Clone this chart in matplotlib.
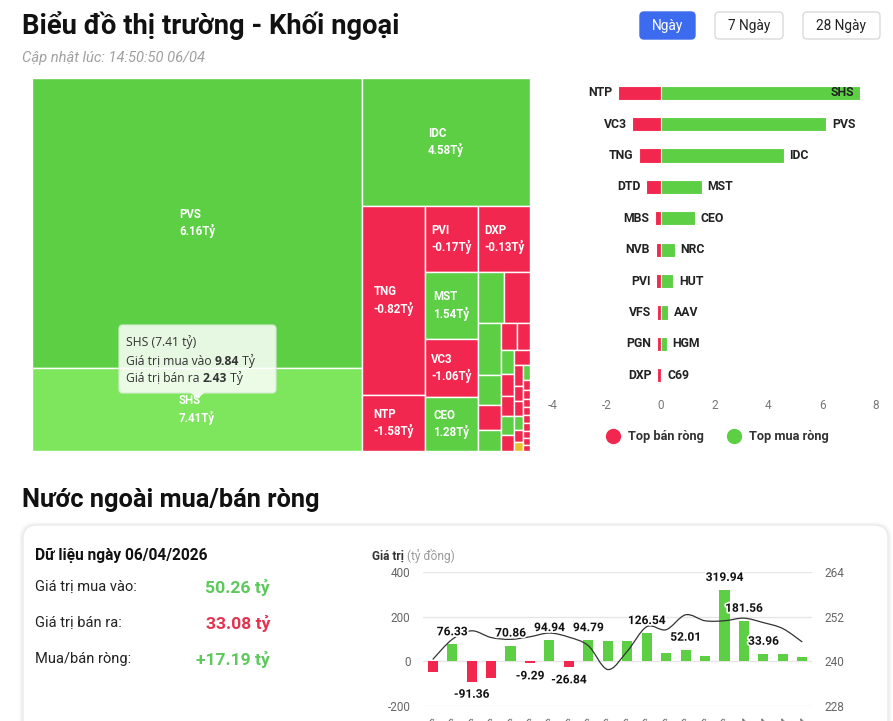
import matplotlib
matplotlib.use("Agg")
import matplotlib.pyplot as plt
import matplotlib.patheffects as pe
from matplotlib.patches import Rectangle, FancyBboxPatch, Polygon, PathPatch
from matplotlib.path import Path
from matplotlib.lines import Line2D
import numpy as np

plt.rcParams['font.family'] = ['Roboto', 'DejaVu Sans']
plt.rcParams['axes.unicode_minus'] = False

W, H = 893, 721
GREEN = '#5dcf45'
RED = '#f2274f'
HOVER_GREEN = '#7de65d'
YELLOW = '#e8c22a'

# ---------------- data ----------------
title = "Biểu đồ thị trường - Khối ngoại"
subtitle = "Cập nhật lúc: 14:50:50 06/04"
buttons = ["Ngày", "7 Ngày", "28 Ngày"]

# treemap (net value in tỷ, cell size weight)
tm_names = ['PVS', 'SHS', 'IDC', 'TNG', 'NTP', 'PVI', 'DXP', 'MST', 'VC3', 'CEO',
            'NRC', 'DTD',
            'HUT', 'AAV', 'MBS', 'HGM',
            'NVB', 'VFS',
            'C69', 'PGN', 'TIG', 'VCS', 'BVS',
            'PLC',
            'L14', 'TVD', 'IDJ', 'VGS', 'LAS', 'DHT',
            'HHC',
            'S99', 'TDN', 'VIG', 'SCG', 'API', 'DVM', 'PSD', 'BAB', 'NTH']
tm_net = [6.16, 7.41, 4.58, -0.82, -1.58, -0.17, -0.13, 1.54, -1.06, 1.28,
          0.52, -0.55,
          0.47, 0.28, -0.20, 0.22,
          -0.19, -0.15,
          0.05, -0.14, -0.10, 0.04, -0.08,
          -0.07,
          -0.06, -0.05, -0.05, 0.03, -0.04, 0.00,
          0.02,
          -0.03, -0.03, -0.02, -0.02, -0.02, -0.02, -0.01, -0.01, -0.01]
tm_size = [957.0, 273.9, 215.0, 119.1, 35.3, 35.0, 34.3, 35.5, 30.7, 28.6,
           13.3, 13.3,
           12.0, 6.9, 5.8, 4.8,
           4.3, 3.5,
           3.1, 2.9, 2.6, 2.5, 2.1,
           2.4,
           1.9, 1.4, 1.3, 1.3, 1.1, 0.8,
           1.05,
           0.70, 0.63, 0.56, 0.56, 0.56, 0.56, 0.49, 0.49, 0.42]
tm_strip_counts = [2, 1, 2, 2, 3, 2, 4, 2, 5, 1, 6, 1, 9]
tm_hover = 'SHS'
tooltip_title = "SHS (7.41 tỷ)"
tooltip_buy = "9.84"
tooltip_sell = "2.43"

# top net sell / net buy
sell_names = ['NTP', 'VC3', 'TNG', 'DTD', 'MBS', 'NVB', 'PVI', 'VFS', 'PGN', 'DXP']
sell_vals = [-1.58, -1.06, -0.82, -0.55, -0.20, -0.19, -0.17, -0.15, -0.14, -0.13]
buy_names = ['SHS', 'PVS', 'IDC', 'MST', 'CEO', 'NRC', 'HUT', 'AAV', 'HGM', 'C69']
buy_vals = [7.41, 6.16, 4.58, 1.54, 1.28, 0.52, 0.47, 0.28, 0.22, 0.05]
bar_xticks = [-4, -2, 0, 2, 4, 6, 8]
legend_labels = ['Top bán ròng', 'Top mua ròng']

# summary card
section_title = "Nước ngoài mua/bán ròng"
card_date = "Dữ liệu ngày 06/04/2026"
card_rows = ["Giá trị mua vào:", "Giá trị bán ra:", "Mua/bán ròng:"]
card_vals = ["50.26 tỷ", "33.08 tỷ", "+17.19 tỷ"]

# daily net foreign flow (bars) and index (line)
dates = ['10/03', '11/03', '12/03', '13/03', '16/03', '17/03', '18/03', '19/03',
         '20/03', '23/03', '24/03', '25/03', '26/03', '27/03', '30/03', '31/03',
         '01/04', '02/04', '03/04', '06/04']
net_flow = [-49, 76.33, -91.36, -73, 70.86, -9.29, 94.94, -26.84, 94.79, 89,
            92, 126.54, 39, 52.01, 26, 319.94, 181.56, 33.96, 34, 17.19]
label_shown = [0, 1, 1, 0, 1, 1, 1, 1, 1, 0, 0, 1, 0, 1, 0, 1, 1, 1, 0, 0]
index_line = [240.5, 245.9, 248.2, 246.4, 245.9, 246.6, 247.6, 246.5, 244.2, 237.8,
              242.7, 249.3, 248.5, 252.5, 250.9, 250.9, 251.6, 250.4, 248.8, 245.2]

# ---------------- figure ----------------
fig = plt.figure(figsize=(W / 100, H / 100), dpi=100)
fig.patch.set_facecolor('white')
bg = fig.add_axes([0, 0, 1, 1])
bg.set_xlim(0, W)
bg.set_ylim(H, 0)
bg.axis('off')
bg.set_zorder(0)
renderer = fig.canvas.get_renderer()


def px_axes(x0, y0, x1, y1):
    ax = fig.add_axes([x0 / W, 1 - y1 / H, (x1 - x0) / W, (y1 - y0) / H])
    ax.set_zorder(1)
    ax.patch.set_alpha(0)
    return ax


def text_w(t):
    return t.get_window_extent(renderer=renderer).width

# header
bg.text(22, 26, title, fontsize=19.7, fontweight='bold', color='#111',
        va='center', ha='left')
bg.text(22, 58, subtitle, fontsize=10.6, style='italic', color='#a0a0a0', va='center')
btn_boxes = [(640, 695), (715, 783), (803, 880)]
for k, (lab, (bx0, bx1)) in enumerate(zip(buttons, btn_boxes)):
    active = k == 0
    bg.add_patch(FancyBboxPatch((bx0, 12), bx1 - bx0, 27,
                                boxstyle='round,pad=0,rounding_size=4',
                                facecolor='#3d6bef' if active else 'white',
                                edgecolor='#3d6bef' if active else '#dadada', lw=1))
    bg.text((bx0 + bx1) / 2, 26, lab, fontsize=9.8, ha='center', va='center',
            color='white' if active else '#222')

# ---------------- treemap ----------------
def strip_layout(sizes, counts, x0, y0, w, h):
    rects = []
    i = 0
    vertical = True
    remaining = float(sum(sizes))
    for c in counts:
        grp = sizes[i:i + c]
        s = float(sum(grp))
        if vertical:
            sw = w * s / remaining
            yy = y0
            for v in grp:
                hh = h * v / s
                rects.append((x0, yy, sw, hh))
                yy += hh
            x0 += sw
            w -= sw
        else:
            sh = h * s / remaining
            xx = x0
            for v in grp:
                ww = w * v / s
                rects.append((xx, y0, ww, sh))
                xx += ww
            y0 += sh
            h -= sh
        remaining -= s
        i += c
        vertical = not vertical
    return rects

TX0, TY0, TX1, TY1 = 32, 78, 530, 451
axt = px_axes(TX0, TY0, TX1, TY1)
TW, TH = TX1 - TX0, TY1 - TY0
axt.set_xlim(0, TW)
axt.set_ylim(TH, 0)
axt.axis('off')
rects = strip_layout(tm_size, tm_strip_counts, 0, 0, TW, TH)
for name, v, (x, y, w, h) in zip(tm_names, tm_net, rects):
    c = GREEN if v > 0 else (RED if v < 0 else YELLOW)
    if name == tm_hover:
        c = HOVER_GREEN
    axt.add_patch(Rectangle((x, y), w, h, facecolor=c, edgecolor='white', lw=1))
    if w >= 45 and h >= 45:
        axt.text(x + w / 2, y + h / 2, f"{name}\n{v:.2f}Tỷ", color='white',
                 fontsize=8.3, fontweight='bold', ha='center', va='center',
                 multialignment='left', linespacing=1.3)

# tooltip (in treemap pixel coords)
tb_x0, tb_y0, tb_x1, tb_y1 = 87, 247, 244, 315
axt.add_patch(FancyBboxPatch((tb_x0, tb_y0), tb_x1 - tb_x0, tb_y1 - tb_y0,
                             boxstyle='round,pad=0,rounding_size=4',
                             facecolor='white', alpha=0.85, edgecolor='#d5ecd0', lw=1, zorder=5))
tip_x = (tb_x0 + tb_x1) / 2
axt.add_patch(Polygon([[tip_x - 7, tb_y1 - 0.5], [tip_x + 7, tb_y1 - 0.5], [tip_x, tb_y1 + 6]],
                      closed=True, facecolor='white', alpha=0.85, edgecolor='none', zorder=5))
tfam = ['Open Sans', 'DejaVu Sans']
axt.text(tb_x0 + 7, 264, tooltip_title, fontsize=8.7, family=tfam, color='#333',
         va='center', zorder=6)
for yy, pre, val in [(283, "Giá trị mua vào ", tooltip_buy), (300, "Giá trị bán ra ", tooltip_sell)]:
    t1 = axt.text(tb_x0 + 7, yy, pre, fontsize=8.7, family=tfam, color='#333', va='center', zorder=6)
    w1 = text_w(t1)
    t2 = axt.text(tb_x0 + 7 + w1, yy, val, fontsize=8.7, family=tfam, color='#333',
                  fontweight='bold', va='center', zorder=6)
    w2 = text_w(t2)
    axt.text(tb_x0 + 7 + w1 + w2, yy, " Tỷ", fontsize=8.7, family=tfam, color='#333',
             va='center', zorder=6)

# ---------------- top buy/sell bars ----------------
axb = px_axes(553, 77, 876, 391)
n = len(sell_names)
ypos = np.arange(n)
axb.barh(ypos, sell_vals, height=0.45, color=RED, edgecolor='white', lw=0.8)
axb.barh(ypos, buy_vals, height=0.45, color=GREEN, edgecolor='white', lw=0.8)
axb.set_xlim(bar_xticks[0], bar_xticks[-1])
axb.set_ylim(n - 0.5, -0.5)
axb.set_xticks(bar_xticks)
axb.set_yticks([])
for s in axb.spines.values():
    s.set_visible(False)
axb.tick_params(axis='x', length=0, colors='#777', labelsize=8.5, pad=6)
xmax = bar_xticks[-1]
for i in range(n):
    axb.annotate(sell_names[i], xy=(sell_vals[i], i), xytext=(-4, 0), textcoords='offset points',
                 ha='right', va='center', fontsize=8.8, fontweight='semibold', color='#222')
    inside = buy_vals[i] + 1.0 > xmax
    axb.annotate(buy_names[i], xy=(buy_vals[i], i), xytext=(-4 if inside else 4, 0),
                 textcoords='offset points', ha='right' if inside else 'left', va='center',
                 fontsize=8.8, fontweight='semibold', color='#222')
handles = [Line2D([], [], marker='o', ls='', color=RED, markersize=10, label=legend_labels[0]),
           Line2D([], [], marker='o', ls='', color=GREEN, markersize=10, label=legend_labels[1])]
axb.legend(handles=handles, loc='center', bbox_to_anchor=(0.5, -0.145), ncol=2, frameon=False,
           prop={'size': 9.2, 'weight': 'semibold'}, handletextpad=0.2, columnspacing=1.3,
           labelcolor='#333')

# ---------------- bottom section ----------------
bg.text(22, 500, section_title, fontsize=18.3, fontweight='bold', color='#111', va='center')
for k, a in enumerate([0.025, 0.02, 0.015]):
    bg.add_patch(FancyBboxPatch((23 - 2 - k, 525 - 1 - k), 865 + 4 + 2 * k, 280,
                                boxstyle='round,pad=0,rounding_size=16',
                                facecolor='#000', alpha=a, edgecolor='none'))
bg.add_patch(FancyBboxPatch((23, 525), 865, 280, boxstyle='round,pad=0,rounding_size=14',
                            facecolor='white', edgecolor='#ececec', lw=1))
bg.text(35, 555, card_date, fontsize=11.2, fontweight='bold', color='#111', va='center')
val_colors = ['#5cc95a', '#e3334f', '#5cc95a']
for k, (lab, val) in enumerate(zip(card_rows, card_vals)):
    yy = 587 + 36 * k
    bg.text(35, yy, lab, fontsize=10.5, color='#222', va='center')
    bg.text(270, yy, val, fontsize=12.6, fontweight='bold', color=val_colors[k],
            ha='right', va='center')

tg = bg.text(372, 556, "Giá trị", fontsize=8.6, fontweight='bold', color='#333', va='center')
bg.text(372 + text_w(tg) + 3, 556, "(tỷ đồng)", fontsize=8.6, color='#9a9a9a', va='center')

axc = px_axes(423, 572, 812, 706)
xs = np.arange(len(net_flow))
colors = [GREEN if v >= 0 else RED for v in net_flow]
axc.bar(xs, net_flow, width=0.52, color=colors, zorder=2)
axc.set_xlim(-0.5, len(net_flow) - 0.5)
axc.set_ylim(-200, 400)
axc.set_yticks([-200, 0, 200, 400])
axc.grid(axis='y', color='#e6e6e6', lw=1, zorder=0)
axc.set_axisbelow(True)
for s in axc.spines.values():
    s.set_visible(False)
axc.tick_params(axis='y', length=0, colors='#666', labelsize=8.5, pad=9)
axc.set_xticks(xs)
axc.set_xticklabels(dates, rotation=45, ha='right', va='top', rotation_mode='anchor')
axc.tick_params(axis='x', length=0, colors='#666', labelsize=8, pad=7)

ax2 = axc.twinx()
ax2.set_ylim(228, 264)
ax2.set_yticks([228, 240, 252, 264])
for s in ax2.spines.values():
    s.set_visible(False)
ax2.tick_params(axis='y', length=0, colors='#666', labelsize=8.5, pad=9)
ax2.patch.set_alpha(0)

# smooth (Catmull-Rom) curve through the index points
P = np.column_stack([xs, index_line]).astype(float)
verts = [tuple(P[0])]
codes = [Path.MOVETO]
for i in range(len(P) - 1):
    p0 = P[i - 1] if i > 0 else P[i]
    p1, p2 = P[i], P[i + 1]
    p3 = P[i + 2] if i + 2 < len(P) else P[i + 1]
    c1 = p1 + (p2 - p0) / 6.0
    c2 = p2 - (p3 - p1) / 6.0
    verts += [tuple(c1), tuple(c2), tuple(p2)]
    codes += [Path.CURVE4] * 3
ax2.add_patch(PathPatch(Path(verts, codes), facecolor='none', edgecolor='#333', lw=0.9,
                        transform=ax2.transData, zorder=3))

for i, v in enumerate(net_flow):
    if label_shown[i]:
        ax2.annotate(f"{v:.2f}", xy=(i, v), xycoords=axc.transData,
                     xytext=(0, 9 if v >= 0 else -9), textcoords='offset points',
                     ha='center', va='center', fontsize=8.6, fontweight='bold', color='#111',
                     path_effects=[pe.withStroke(linewidth=2.5, foreground='white')], zorder=5)

fig.savefig('out.png', dpi=100, facecolor='white')
